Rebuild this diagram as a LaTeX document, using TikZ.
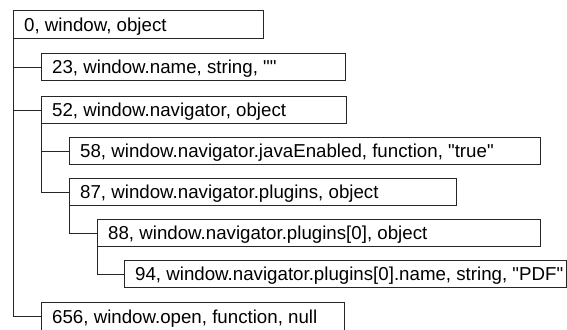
\documentclass[tikz,border=0pt]{standalone}
\usepackage{fontspec}
\newfontfamily\lib{Liberation Sans}[Ligatures=TeXOff]
\begin{document}
\begin{tikzpicture}[x=1pt,y=-1pt,
  box/.style={draw=black!85, line width=0.9pt, anchor=north west, minimum height=27pt,
    inner sep=0pt},
  lbl/.style={anchor=base west, inner sep=0pt, font=\lib\fontsize{18.7}{21}\selectfont},
  link/.style={draw=black!85, line width=0.9pt}]
\useasboundingbox (0,0) rectangle (567,329);
\node[box, minimum width=250pt, minimum height=28pt] (b0) at (13,10) {};
\node[box, minimum width=304pt] (b1) at (41,53) {};
\node[box, minimum width=305pt] (b2) at (41,96) {};
\node[box, minimum width=471pt] (b3) at (69,137) {};
\node[box, minimum width=387pt] (b4) at (69,178) {};
\node[box, minimum width=443pt] (b5) at (97,219) {};
\node[box, minimum width=442pt] (b6) at (124,260) {};
\node[box, minimum width=303pt, minimum height=28pt] (b7) at (41,302) {};
\node[lbl] (t0) at ([xshift=11pt,yshift=-6.7pt]b0.west) {0, window, object};
\node[lbl] (t1) at ([xshift=11pt,yshift=-6.7pt]b1.west) {23, window.name, string, ""};
\node[lbl] (t2) at ([xshift=11pt,yshift=-6.7pt]b2.west) {52, window.navigator, object};
\node[lbl] (t3) at ([xshift=11pt,yshift=-6.7pt]b3.west) {58, window.navigator.javaEnabled, function, "true"};
\node[lbl] (t4) at ([xshift=11pt,yshift=-6.7pt]b4.west) {87, window.navigator.plugins, object};
\node[lbl] (t5) at ([xshift=11pt,yshift=-6.7pt]b5.west) {88, window.navigator.plugins[0], object};
\node[lbl] (t6) at ([xshift=11pt,yshift=-6.7pt]b6.west) {94, window.navigator.plugins[0].name, string, "PDF"};
\node[lbl] (t7) at ([xshift=11pt,yshift=-6.7pt]b7.west) {656, window.open, function, null};
\draw[link] (b0.south west) |- (b1.west);
\draw[link] (b0.south west) |- (b2.west);
\draw[link] (b0.south west) |- (b7.west);
\draw[link] (b2.south west) |- (b3.west);
\draw[link] (b2.south west) |- (b4.west);
\draw[link] (b4.south west) |- (b5.west);
\draw[link] (b5.south west) |- (b6.west);
\end{tikzpicture}
\end{document}
